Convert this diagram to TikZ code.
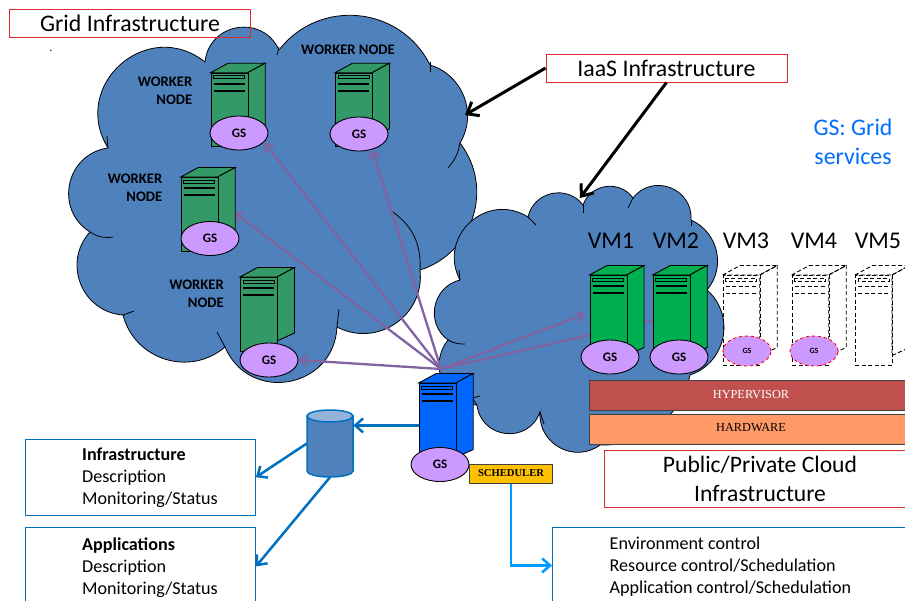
\documentclass[tikz,border=0pt]{standalone}
\usepackage{fontspec}
\setmainfont{Carlito}
\newfontfamily\barfont{Liberation Serif}
\definecolor{CloudBlue}{RGB}{79, 129, 189}
\definecolor{CloudTop}{RGB}{149, 179, 215}
\definecolor{WorkerGreen}{RGB}{51, 153, 102}
\definecolor{VmGreen}{RGB}{0, 176, 80}
\definecolor{MasterBlue}{RGB}{0, 102, 255}
\definecolor{GsViolet}{RGB}{204, 153, 255}
\definecolor{LinkViolet}{RGB}{128, 100, 162}
\definecolor{LinkBlue}{RGB}{0, 112, 192}
\definecolor{SchedBlue}{RGB}{0, 153, 255}
\definecolor{BoxRed}{RGB}{224, 40, 48}
\definecolor{HyperRed}{RGB}{192, 80, 77}
\definecolor{HardOrange}{RGB}{255, 153, 102}
\definecolor{SchedGold}{RGB}{255, 192, 0}
\usetikzlibrary{arrows.meta, positioning, shapes.geometric}
\pgfdeclarelayer{clouds}
\pgfdeclarelayer{links}
\pgfsetlayers{clouds,links,main}

% front face top left at (#3,#4), height #5
\newcommand{\serverbox}[5][]{%
    \draw[serverline, #1] (#3,#4) -- ++(17.5,-9.5) -- ++(37,0) -- ++(-17.5,9.5) -- cycle;
    \draw[serverline, #1] (#3+37,#4) -- ++(17.5,-9.5) -- ++(0,#5-8) -- ++(-17.5,8) -- cycle;
    \node[serverfront, minimum height=#5, #1] (#2) at (#3,#4) {};
    \draw[serverline, fill=none, #1] (#3+3,#4+3) rectangle (#3+34,#4+6);
    \draw[serverline, fill=none, line width=1.8pt, #1] (#3+3,#4+11) -- (#3+34,#4+11);
    \draw[serverline, fill=none, line width=1.8pt, #1] (#3+3,#4+18) -- (#3+34,#4+18);
}

\begin{document}
\begin{tikzpicture}[x=1pt, y=-1pt,
        cloudline/.style={draw=black, line width=0.8pt, fill=CloudBlue},
        curl/.style={draw=black, line width=0.8pt},
        lobe/.code={\pgfmathsetmacro\lobeloose{0.851/(cos(#1/2)^2)}\tikzset{bend left=#1, looseness=\lobeloose}},
        serverline/.style={draw=black, line width=0.9pt, line join=miter},
        serverfront/.style={rectangle, draw=black, line width=0.9pt, anchor=north west, minimum width=37, inner sep=0},
        ghost/.style={fill=none, line width=0.9pt, dash pattern=on 4pt off 2.5pt},
        gsnode/.style={ellipse, draw=black, line width=0.9pt, fill=GsViolet, minimum width=58, minimum height=34, inner sep=0, font=\fontsize{13}{13}\selectfont\bfseries},
        gsghost/.style={ellipse, draw=red, dashed, line width=0.9pt, fill=GsViolet, minimum width=48, minimum height=30, inner sep=0, font=\fontsize{8}{8}\selectfont\bfseries},
        workerlabel/.style={align=right, inner sep=0, font=\fontsize{14.6}{18}\selectfont\bfseries},
        vmlabel/.style={inner sep=0, font=\fontsize{24}{24}\selectfont},
        redbox/.style={rectangle, draw=BoxRed, line width=0.9pt, inner sep=0, font=\fontsize{23.8}{24}\selectfont},
        infobox/.style={rectangle, draw=LinkBlue, line width=0.9pt, inner sep=0, anchor=north west},
        infotext/.style={align=left, inner sep=0, yshift=-1pt, font=\fontsize{18.1}{22}\selectfont},
        layerbar/.style={rectangle, draw=black!75, line width=0.9pt, inner sep=0, minimum width=324, minimum height=30, font=\fontsize{12.3}{12}\selectfont\barfont},
        violetlink/.style={-{Straight Barb[length=7pt, width=11pt]}, line width=2.3pt, LinkViolet},
        bluelink/.style={-{Straight Barb[length=8pt, width=14pt]}, line width=2.5pt, LinkBlue},
        blacklink/.style={-{Straight Barb[length=10pt, width=16pt]}, line width=3pt, black}
    ]
        \useasboundingbox (0,0) rectangle (905,600);

        % Clouds
        \begin{pgfonlayer}{clouds}
        \path[cloudline] (108,148) to[lobe=80] (205,62) to[lobe=75] (279,50) to[lobe=58] (430,65) to[lobe=52] (460,143)
            to[lobe=55] (420,270) to[lobe=62] (337,327) to[lobe=77] (225,347)
            to[lobe=58] (123,315) to[lobe=64] (90,232) to[lobe=70] (108,148);
        \path[curl] (108,148) -- (107,136);
        \path[curl] (90,232) to[bend right=20] (113,237);
        \path[curl] (123,315) -- (134,311);
        \path[curl] (225,347) -- (217,332);
        \path[curl] (337,327) -- (339,309);
        \path[curl] (420,270) to[bend right=30] (390,210);
        \path[curl] (460,143) to[bend left=15] (448,168);
        \path[curl] (430,62) -- (430,72);
        \path[curl] (279,47) -- (277,55);
        \path[cloudline] (460,280) to[lobe=75] (528,217) to[lobe=65] (583,205) to[lobe=62] (633,198) to[lobe=73] (691,220)
            to[lobe=53] (707,290) to[lobe=60] (690,375) to[lobe=40] (600,445) to[lobe=65] (540,412)
            to[lobe=77] (477,405) to[lobe=63] (448,340) to[lobe=65] (460,280);
        \path[curl] (460,280) -- (459,270);
        \path[curl] (448,340) to[bend right=15] (465,344);
        \path[curl] (528,217) -- (536,225);
        \path[curl] (583,205) -- (583,213);
        \path[curl] (633,198) -- (628,208);
        \path[curl] (691,220) -- (691,226);
        \path[curl] (540,412) -- (544,424);
        \path[curl] (477,405) -- (472,398) -- (480,396);
        \end{pgfonlayer}

        % Titles
        \node[redbox, minimum width=241, minimum height=28] (gridtitle) at (130,23) {Grid Infrastructure};
        \node[inner sep=0, font=\fontsize{12}{12}\selectfont] (griddot) at (51,51) {.};
        \node[redbox, minimum width=241, minimum height=28] (iaastitle) at (666.5,68) {IaaS Infrastructure};
        \node[redbox, minimum width=312, minimum height=57, align=center, font=\fontsize{23.6}{29}\selectfont] (cloudtitle) at (760,478.5) {Public/Private Cloud\\Infrastructure};
        \node[align=center, inner sep=0, text=SchedBlue!70!blue, font=\fontsize{23.8}{29}\selectfont] (gsnote) at (853,142) {GS: Grid\\services};

        % Worker nodes
        \serverbox[fill=WorkerGreen]{worka}{210.7}{72.7}{73.5}
        \node[gsnode] (gsa) at (239,133) {GS};
        \serverbox[fill=WorkerGreen]{workb}{335}{72.7}{73.5}
        \node[gsnode] (gsb) at (359,134) {GS};
        \serverbox[fill=WorkerGreen]{workc}{180.7}{177}{73.5}
        \node[gsnode] (gsc) at (210,238.5) {GS};
        \serverbox[fill=WorkerGreen]{workd}{240}{277}{73.5}
        \node[gsnode] (gsd) at (269,360) {GS};
        \node[workerlabel] (labela) at (165,91) {WORKER\\NODE};
        \node[workerlabel] (labelb) at (348,50) {WORKER NODE};
        \node[workerlabel] (labelc) at (135,188) {WORKER\\NODE};
        \node[workerlabel] (labeld) at (196.5,294) {WORKER\\NODE};

        % Virtual machines
        \serverbox[fill=VmGreen]{vma}{589.5}{275}{90}
        \node[gsnode] (gsvma) at (610,357) {GS};
        \serverbox[fill=VmGreen]{vmb}{652.7}{275}{90}
        \node[gsnode] (gsvmb) at (679,357) {GS};
        \serverbox[ghost]{vmc}{722.7}{275}{90}
        \node[gsghost] (gsvmc) at (747,351) {GS};
        \serverbox[ghost]{vmd}{791.7}{275}{90}
        \node[gsghost] (gsvmd) at (814,351) {GS};
        \serverbox[ghost]{vme}{855}{275}{90}
        \node[vmlabel] (labvma) at (611,240.5) {VM1};
        \node[vmlabel] (labvmb) at (676,240.5) {VM2};
        \node[vmlabel] (labvmc) at (746,240.5) {VM3};
        \node[vmlabel] (labvmd) at (814,240.5) {VM4};
        \node[vmlabel] (labvme) at (878,240.5) {VM5};

        % Hypervisor and hardware
        \node[layerbar, fill=HyperRed, text=white] (hyper) at (751,395) {\raisebox{2pt}{HYPERVISOR}};
        \node[layerbar, fill=HardOrange] (hard) at (751,429) {\raisebox{3pt}{HARDWARE}};

        % Master, store and scheduler
        \serverbox[fill=MasterBlue]{master}{418.7}{383}{84}
        \node[gsnode] (gsmaster) at (440,464.5) {GS};
        \node[rectangle, draw=black!75, line width=1pt, fill=SchedGold, inner sep=0, minimum width=83, minimum height=19,
            font=\fontsize{10.6}{10}\selectfont\barfont\bfseries] (sched) at (511,473.5) {SCHEDULER};
        \node[inner sep=0, minimum width=46, minimum height=67] (store) at (330,443.5) {};
        \draw[draw=LinkBlue, line width=1.5pt, fill=CloudBlue] (307,416) -- (307,471) arc (180:0:23 and 6) -- (353,416) -- cycle;
        \draw[draw=LinkBlue, line width=1.5pt, fill=CloudTop] (330,416) ellipse (23 and 6);

        % Text boxes
        \node[infobox, minimum width=230.5, minimum height=76.5] (infra) at (24.5,438.5) {};
        \node[infotext, right=57.5pt of infra.west] (infratext) {\textbf{Infrastructure}\\Description\\Monitoring/Status};
        \node[infobox, minimum width=230.5, minimum height=78] (apps) at (24.5,527) {};
        \node[infotext, right=57.5pt of apps.west] (appstext) {\textbf{Applications}\\Description\\Monitoring/Status};
        \node[infobox, minimum width=370, minimum height=76] (env) at (552,527) {};
        \node[infotext, right=57.5pt of env.west] (envtext) {Environment control\\Resource control/Schedulation\\Application control/Schedulation};

        % Free ends of the arrows
        \coordinate (hub) at (441,369);
        \coordinate (tipc) at (234,212);
        \coordinate (tipvma) at (585,314);
        \coordinate (tipgrid) at (465,115);
        \coordinate (tipvm) at (580,198);

        % Grid services links
        \begin{pgfonlayer}{links}
        \draw[violetlink] (hub) -- (gsa.-20);
        \draw[violetlink] (hub) -- (gsb.-50);
        \draw[violetlink] (hub) -- (tipc);
        \draw[violetlink] (hub) -- (gsd.east);
        \draw[violetlink] (hub) -- (tipvma);
        \draw[line width=2.3pt, LinkViolet] (hub) -- (vmb.west);
        \end{pgfonlayer}

        \draw[blacklink] (iaastitle.west) -- (tipgrid);
        \draw[blacklink] (iaastitle.south) -- (tipvm);
        \draw[bluelink] (master.west) -- (master.west -| store.east);
        \draw[bluelink] (store.west) -- (infra.east);
        \draw[bluelink] (store.south) -- (apps.east);
        \draw[bluelink, SchedBlue] (sched.south) |- (env.west);
\end{tikzpicture}
\end{document}
